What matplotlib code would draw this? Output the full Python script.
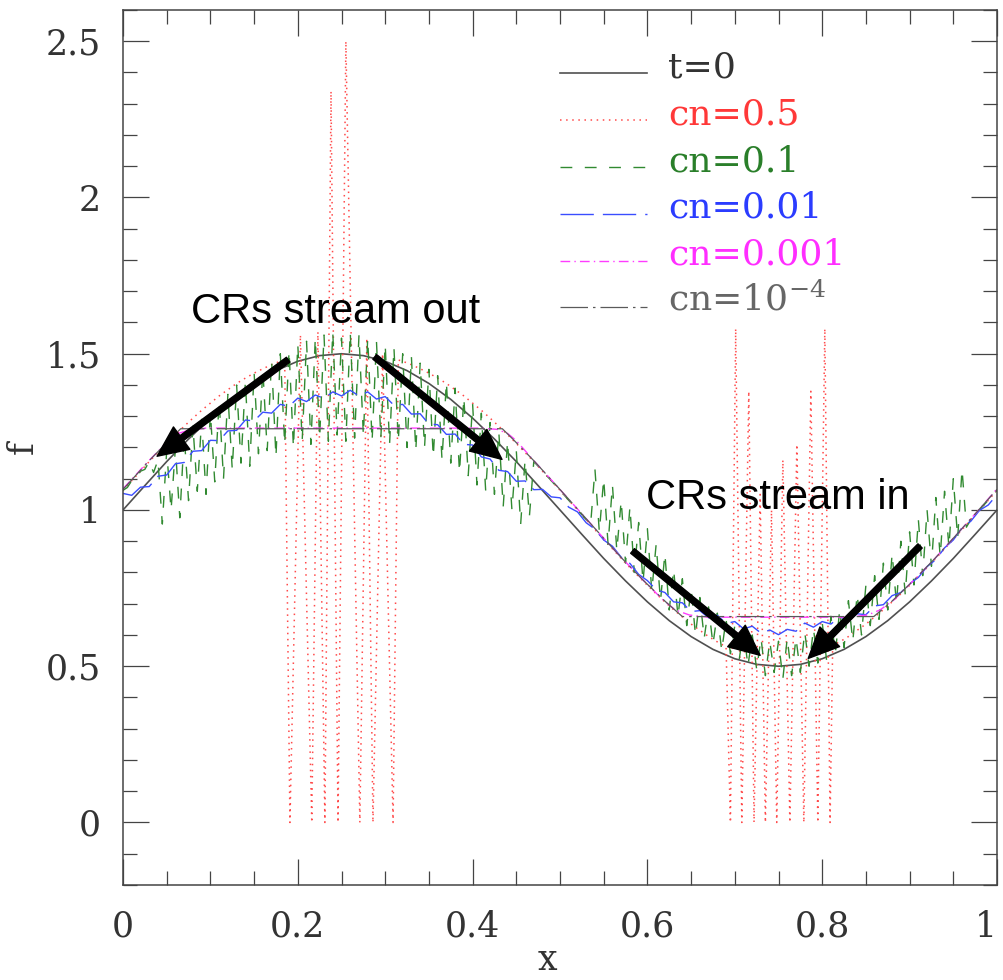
import numpy as np
import matplotlib
matplotlib.use("Agg")
import matplotlib.pyplot as plt
from matplotlib.lines import Line2D

# ---------------- data ----------------
# t=0 profile, sampled every 0.025 in x
t0_x = np.linspace(0, 1, 41)
t0_y = [1.000, 1.078, 1.155, 1.227, 1.294, 1.354, 1.405, 1.446, 1.476, 1.494, 1.500,
        1.494, 1.476, 1.446, 1.405, 1.354, 1.294, 1.227, 1.155, 1.078, 1.000,
        0.922, 0.845, 0.773, 0.706, 0.646, 0.595, 0.554, 0.524, 0.506, 0.500,
        0.506, 0.524, 0.554, 0.595, 0.646, 0.706, 0.773, 0.845, 0.922, 1.000]

grid = np.linspace(0, 1, 101)   # 0.01 spacing

# cn=0.5 (red dotted): smooth parts + grid-scale spikes
red_left_y = [1.063, 1.094, 1.124, 1.155, 1.184, 1.213, 1.241, 1.268, 1.294, 1.319,
              1.342, 1.365, 1.385, 1.405, 1.422, 1.438, 1.452, 1.465, 1.476]          # x=0.00..0.18
red_spike1_x = [0.185, 0.191, 0.203, 0.216, 0.223, 0.231, 0.238, 0.246, 0.255, 0.271,
                0.279, 0.286, 0.297, 0.309, 0.315]
red_spike1_y = [1.480, 0.0, 1.56, 0.0, 1.57, 0.0, 2.34, 0.0, 2.50, 0.0,
                1.55, 0.0, 1.50, 0.0, 1.480]
red_mid_y = [1.476, 1.465, 1.452, 1.438, 1.422, 1.405, 1.385, 1.365, 1.342, 1.319,
             1.294, 1.268, 1.241, 1.213, 1.184, 1.155, 1.124, 1.094, 1.063, 1.031,
             1.000, 0.969, 0.937, 0.906, 0.876, 0.845, 0.816, 0.787, 0.759, 0.732,
             0.706, 0.681, 0.658, 0.635, 0.615, 0.595, 0.578, 0.562]                   # x=0.32..0.69
red_spike2_x = [0.695, 0.701, 0.708, 0.716, 0.722, 0.729, 0.735, 0.742, 0.748, 0.755,
                0.763, 0.771, 0.779, 0.787, 0.795, 0.803, 0.809, 0.812]
red_spike2_y = [0.0, 1.58, 0.0, 1.38, 0.0, 1.05, 0.0, 1.00, 0.0, 1.16,
                0.0, 1.21, 0.0, 1.38, 0.0, 1.58, 0.0, 0.568]
red_right_y = [0.578, 0.595, 0.615, 0.635, 0.658, 0.681, 0.706, 0.732, 0.759, 0.787,
               0.816, 0.845, 0.876, 0.906, 0.937, 0.969, 1.000, 1.031, 1.063]          # x=0.82..1.00

# cn=0.1 (green dashed): values every 0.005 in x
green_y = [
    1.063, 1.072, 1.094, 1.102, 1.124, 1.130, 1.155, 1.120, 1.16, 0.955,
    1.19, 1.00, 1.20, 0.975, 1.24, 1.03, 1.27, 1.06, 1.29, 1.05,
    1.31, 1.09, 1.35, 1.10, 1.37, 1.13, 1.40, 1.15, 1.41, 1.14,
    1.44, 1.18, 1.45, 1.19, 1.48, 1.17, 1.50, 1.21, 1.51, 1.20,
    1.53, 1.22, 1.54, 1.21, 1.55, 1.23, 1.56, 1.22, 1.57, 1.24,
    1.55, 1.22, 1.57, 1.23, 1.56, 1.24, 1.55, 1.22, 1.54, 1.23,
    1.53, 1.21, 1.52, 1.22, 1.50, 1.20, 1.49, 1.19, 1.47, 1.20,
    1.45, 1.17, 1.43, 1.16, 1.41, 1.15, 1.39, 1.12, 1.36, 1.11,
    1.34, 1.08, 1.31, 1.06, 1.28, 1.05, 1.25, 1.01, 1.22, 1.00,
    1.19, 0.955, 1.16, 0.98, 1.155, 1.14, 1.124, 1.109, 1.094, 1.078,
    1.063, 1.047, 1.031, 1.015, 1.000, 0.985, 0.969, 0.953, 1.13, 0.93,
    1.10, 0.89, 1.08, 0.87, 1.03, 0.83, 1.01, 0.80, 0.96, 0.77,
    0.94, 0.74, 0.89, 0.71, 0.86, 0.68, 0.81, 0.66, 0.78, 0.63,
    0.75, 0.60, 0.72, 0.59, 0.69, 0.57, 0.67, 0.55, 0.65, 0.54,
    0.63, 0.52, 0.62, 0.50, 0.60, 0.49, 0.59, 0.47, 0.58, 0.48,
    0.58, 0.46, 0.59, 0.47, 0.59, 0.48, 0.61, 0.50, 0.62, 0.51,
    0.64, 0.52, 0.66, 0.54, 0.68, 0.56, 0.71, 0.58, 0.73, 0.60,
    0.76, 0.63, 0.79, 0.65, 0.83, 0.68, 0.86, 0.70, 0.90, 0.73,
    0.93, 0.76, 0.97, 0.79, 1.00, 0.82, 1.04, 0.85, 1.06, 0.88,
    1.10, 0.91, 1.13, 0.945, 0.969, 0.985, 1.000, 1.016, 1.031, 1.047,
    1.063]
green_x = np.linspace(0, 1, len(green_y))

# cn=0.01 (blue long dashed): values every 0.01 in x
blue_y = [1.053, 1.047, 1.073, 1.075, 1.108, 1.112, 1.148, 1.152, 1.188, 1.190,
          1.223, 1.222, 1.253, 1.255, 1.288, 1.285, 1.313, 1.310, 1.338, 1.332,
          1.358, 1.347, 1.368, 1.357, 1.378, 1.365, 1.383, 1.365, 1.378, 1.355,
          1.363, 1.335, 1.338, 1.307, 1.308, 1.275, 1.273, 1.242, 1.243, 1.210,
          1.208, 1.170, 1.163, 1.127, 1.123, 1.092, 1.093, 1.065, 1.066, 1.042,
          1.039, 1.009, 0.994, 0.959, 0.939, 0.904, 0.884, 0.849, 0.829, 0.794,
          0.774, 0.745, 0.736, 0.706, 0.703, 0.675, 0.678, 0.655, 0.663, 0.637,
          0.643, 0.620, 0.628, 0.606, 0.616, 0.601, 0.618, 0.612, 0.638, 0.625,
          0.643, 0.635, 0.658, 0.647, 0.668, 0.665, 0.693, 0.697, 0.726, 0.736,
          0.764, 0.784, 0.819, 0.841, 0.879, 0.904, 0.944, 0.964, 0.999, 1.016,
          1.049]

# cn=0.001 (magenta dash-dot)
mag_x = [0.000, 0.004, 0.029, 0.052, 0.063, 0.075, 0.095, 0.410, 0.428, 0.440,
         0.450, 0.471, 0.496, 0.521, 0.546, 0.571, 0.596, 0.618, 0.632, 0.648,
         0.670, 0.830, 0.852, 0.866, 0.882, 0.904, 0.929, 0.954, 0.979, 1.000]
mag_y = [1.068, 1.080, 1.156, 1.222, 1.245, 1.255, 1.262, 1.262, 1.258, 1.245,
         1.222, 1.155, 1.078, 1.000, 0.922, 0.845, 0.773, 0.712, 0.680, 0.664,
         0.657, 0.657, 0.664, 0.680, 0.712, 0.773, 0.845, 0.922, 1.000, 1.068]

# cn=1e-4 (gray long dash-dot)
gray_x = [0.000, 0.004, 0.029, 0.054, 0.066, 0.434, 0.446, 0.471, 0.496, 0.521, 0.546,
          0.571, 0.596, 0.621, 0.640, 0.859, 0.879, 0.904, 0.929, 0.954, 0.979, 1.000]
gray_y = [1.066, 1.078, 1.155, 1.227, 1.260, 1.260, 1.227, 1.155, 1.078, 1.000, 0.922,
          0.845, 0.773, 0.706, 0.659, 0.659, 0.706, 0.773, 0.845, 0.922, 1.000, 1.066]

legend_labels = ["t=0", "cn=0.5", "cn=0.1", "cn=0.01", "cn=0.001", r"cn=10$^{-4}$"]
x_ticks = [0, 0.2, 0.4, 0.6, 0.8, 1.0]
x_ticklabels = ["0", "0.2", "0.4", "0.6", "0.8", "1"]
y_ticks = [0, 0.5, 1.0, 1.5, 2.0, 2.5]
y_ticklabels = ["0", "0.5", "1", "1.5", "2", "2.5"]

# annotations (tail -> tip)
ann_text = ["CRs stream out", "CRs stream in"]
ann_pos = [(0.2437, 1.599), (0.749, 1.003)]
arrows = [((0.189, 1.481), (0.039, 1.172)),
          ((0.288, 1.490), (0.4336, 1.162)),
          ((0.583, 0.869), (0.729, 0.535)),
          ((0.912, 0.885), (0.784, 0.525))]

# ---------------- figure ----------------
plt.rcParams['mathtext.fontset'] = 'dejavuserif'
fig = plt.figure(figsize=(10.04, 9.8), dpi=100)
ax = fig.add_axes([0.12251, 0.09694, 0.87052, 0.89286])

c_t0 = '#505050'
c_red = '#ff4a4a'
c_green = '#318a31'
c_blue = '#3a4dff'
c_mag = '#ff3cff'
c_gray = '#5a5a5a'

styles = [
    dict(color=c_t0, lw=1.2, ls='-'),
    dict(color=c_red, lw=1.1, ls=(0, (1, 3))),
    dict(color=c_green, lw=1.0, ls=(0, (8.5, 9))),
    dict(color=c_blue, lw=1.0, ls=(0, (24, 6.5))),
    dict(color=c_mag, lw=1.0, ls=(0, (7, 3, 1, 3))),
    dict(color=c_gray, lw=0.9, ls=(0, (22, 4, 2, 4))),
]

red_x = list(grid[0:19]) + red_spike1_x + list(grid[32:70]) + red_spike2_x + list(grid[82:101])
red_y = red_left_y + red_spike1_y + red_mid_y + red_spike2_y + red_right_y

ax.plot(t0_x, t0_y, **styles[0])
ax.plot(red_x, red_y, **styles[1])
ax.plot(green_x, green_y, **styles[2])
ax.plot(grid, blue_y, **styles[3])
ax.plot(mag_x, mag_y, **styles[4])
ax.plot(gray_x, gray_y, **styles[5])

ax.set_xlim(0, 1)
ax.set_ylim(-0.2, 2.6)

# ticks
ax.set_xticks(x_ticks)
ax.set_xticklabels(x_ticklabels)
ax.set_yticks(y_ticks)
ax.set_yticklabels(y_ticklabels)
ax.set_xticks(np.arange(0, 1.0001, 0.05), minor=True)
ax.set_yticks(np.arange(-0.2, 2.6001, 0.1), minor=True)
ax.tick_params(which='both', direction='in', top=True, right=True, colors='#444444',
               labelcolor='#333333')
ax.tick_params(which='major', length=19, width=0.9)
ax.tick_params(which='minor', length=10, width=0.9)
ax.tick_params(axis='x', which='major', pad=18)
ax.tick_params(axis='y', which='major', pad=16)
for lab in ax.get_xticklabels() + ax.get_yticklabels():
    lab.set_fontfamily('DejaVu Serif')
    lab.set_fontsize(25)
# keep the last x label ("1") inside the canvas
ax.get_xticklabels()[-1].set_horizontalalignment('right')
for sp in ax.spines.values():
    sp.set_color('#444444')
    sp.set_linewidth(1.1)

ax.set_xlabel('x', fontfamily='DejaVu Serif', fontsize=25, color='#333333')
ax.xaxis.label.set_va('baseline')
ax.xaxis.set_label_coords(0.486, -0.097)
ax.set_ylabel('f', fontfamily='DejaVu Serif', fontsize=25, color='#333333')
ax.yaxis.set_label_coords(-0.095, 0.5)

# manual legend
leg_colors = ['#333333', '#ff3838', '#2a7f2a', '#2b3cff', '#ff2eff', '#666666']
line_y = [0.928, 0.874, 0.8206, 0.7669, 0.7131, 0.6606]
text_y = [0.9223, 0.8686, 0.8149, 0.7623, 0.7086, 0.656]
for st, lab, col, ly, ty in zip(styles, legend_labels, leg_colors, line_y, text_y):
    ax.add_line(Line2D([0.5, 0.6], [ly, ly], transform=ax.transAxes, **st))
    ax.text(0.6236, ty, lab, transform=ax.transAxes, color=col, fontsize=26,
            fontfamily='DejaVu Serif', va='baseline', ha='left')

# annotations
for txt, (tx, ty) in zip(ann_text, ann_pos):
    ax.text(tx, ty, txt, fontsize=30, fontfamily='Liberation Sans', ha='center',
            va='baseline', color='black', zorder=6)
for (tail, tip) in arrows:
    ax.annotate('', xy=tip, xytext=tail,
                arrowprops=dict(facecolor='black', edgecolor='black', width=4.3,
                                headwidth=20, headlength=22, shrink=0),
                zorder=7)

fig.savefig('out.png', dpi=100)
